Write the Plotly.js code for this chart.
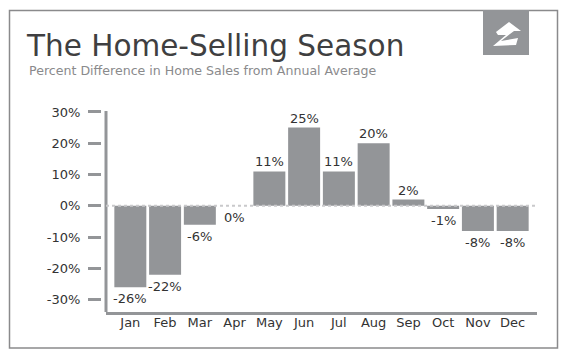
<!DOCTYPE html>
<html>
<head>
<meta charset="utf-8">
<script src="https://cdn.plot.ly/plotly-3.0.1.min.js"></script>
<style>html,body{margin:0;padding:0;background:#fff;}#chart{width:570px;height:361px;}</style>
</head>
<body>
<div id="chart"></div>
<script>
const months = ['Jan','Feb','Mar','Apr','May','Jun','Jul','Aug','Sep','Oct','Nov','Dec'];
const values = [-26, -22, -6, 0, 11, 25, 11, 20, 2, -1, -8, -8];
const valueLabels = ['-26%','-22%','-6%','0%','11%','25%','11%','20%','2%','-1%','-8%','-8%'];
const yTickVals = [-30, -20, -10, 0, 10, 20, 30];
const yTickText = ['-30%','-20%','-10%','0%','10%','20%','30%'];
const titleText = 'The Home-Selling Season';
const subtitleText = 'Percent Difference in Home Sales from Annual Average';

const W = 570, H = 361, ml = 60, mr = 33, mt = 111, mb = 49;
const plotW = W - ml - mr, plotH = H - mt - mb;
const px = x => (x - ml) / plotW;
const py = y => (H - mb - y) / plotH;
const FONT = 'DejaVu Sans, sans-serif';
const GRAY = '#939598';

function pathFromPx(pts) {
  return pts.map((p, i) => (i ? 'L' : 'M') + px(p[0]).toFixed(4) + ',' + py(p[1]).toFixed(4)).join(' ') + ' Z';
}

const annotations = values.map((v, i) => ({
  x: months[i], y: v, xref: 'x', yref: 'y',
  text: valueLabels[i], showarrow: false,
  yanchor: v > 0 ? 'bottom' : 'top',
  yshift: v > 0 ? 0 : -2,
  font: {family: FONT, size: 13, color: '#333'}
}));
annotations.push({
  xref: 'paper', yref: 'paper', x: px(27), y: py(70.5), xanchor: 'left', yanchor: 'middle',
  text: subtitleText, showarrow: false, font: {family: FONT, size: 12.6, color: '#8a8a8c'}
});

const shapes = [
  {type: 'rect', xref: 'paper', yref: 'paper', x0: px(9.5), x1: px(557.5), y0: py(348), y1: py(10.5),
   line: {color: '#8a8a8c', width: 1.5}, fillcolor: 'rgba(0,0,0,0)', layer: 'below'},
  {type: 'rect', xref: 'paper', yref: 'paper', x0: px(483), x1: px(529), y0: py(55), y1: py(10),
   line: {width: 0}, fillcolor: GRAY},
  {type: 'path', xref: 'paper', yref: 'paper', fillcolor: '#fff', line: {width: 0},
   path: pathFromPx([[496,32],[509,22],[521,31],[514,31],[501,41],[518,38],[516,45],[493,46],[506,35],[498,35]])},
  {type: 'line', xref: 'paper', yref: 'paper', x0: px(106), x1: px(106), y0: 0, y1: 1,
   line: {color: GRAY, width: 3}},
  {type: 'line', xref: 'paper', yref: 'y', x0: px(106), x1: 1, y0: 0, y1: 0,
   line: {color: '#c9c9cb', width: 2, dash: 'dot'}, layer: 'above'}
];

const data = [{
  type: 'bar', x: months, y: values,
  marker: {color: GRAY, line: {width: 0}},
  hoverinfo: 'none'
}];

const layout = {
  width: W, height: H,
  margin: {l: ml, r: mr, t: mt, b: mb, pad: 0},
  paper_bgcolor: '#fff', plot_bgcolor: '#fff',
  showlegend: false,
  bargap: 0.08,
  title: {
    text: titleText, xref: 'container', yref: 'container',
    x: 27 / W, xanchor: 'left', y: 1 - 45.5 / H, yanchor: 'middle',
    font: {family: FONT, size: 29.5, color: '#3f3f41'}
  },
  xaxis: {
    type: 'category', domain: [px(106), 1], range: [-0.7, 11.7],
    showline: true, linecolor: GRAY, linewidth: 3, ticks: '', showgrid: false, zeroline: false,
    ticklabelstandoff: -4,
    tickfont: {family: FONT, size: 13, color: '#333'}, anchor: 'y', fixedrange: true
  },
  yaxis: {
    range: [-33.9, 30.3], anchor: 'free', position: px(101),
    showline: false, showgrid: false, zeroline: false,
    ticks: 'outside', ticklen: 13, tickwidth: 3, tickcolor: GRAY,
    ticklabelstandoff: 5,
    tickvals: yTickVals, ticktext: yTickText,
    tickfont: {family: FONT, size: 13, color: '#333'}, fixedrange: true
  },
  annotations: annotations,
  shapes: shapes
};

Plotly.newPlot('chart', data, layout, {displayModeBar: false, staticPlot: true});
</script>
</body>
</html>
